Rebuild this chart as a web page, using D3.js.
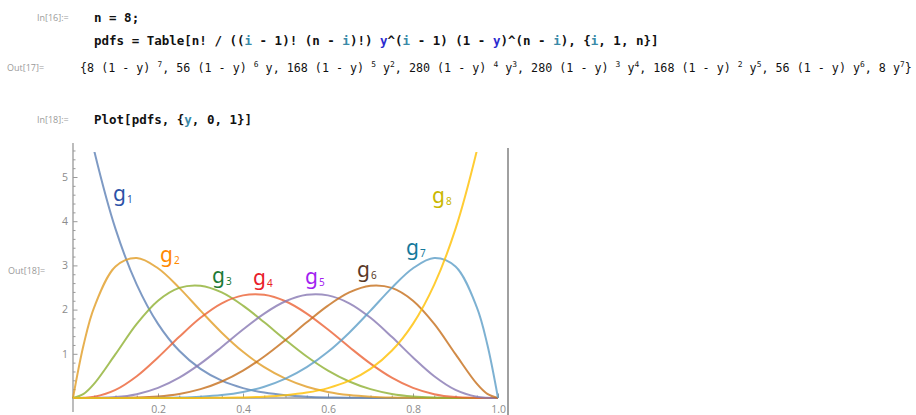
<!DOCTYPE html>
<html>
<head>
<meta charset="utf-8">
<script src="https://cdn.jsdelivr.net/npm/d3@7/dist/d3.min.js"></script>
<style>
  body{margin:0;background:#fff;}
  svg{display:block;}
  .cellLbl{font-family:"Open Sans","DejaVu Sans",sans-serif;font-size:9px;fill:#9a9a9a;}
  .code{font-family:"DejaVu Sans Mono",monospace;font-size:12.5px;font-weight:bold;fill:#111;}
  .out{font-family:"DejaVu Sans Mono",monospace;fill:#111;}
  .tick text{font-family:"Open Sans","DejaVu Sans",sans-serif;font-size:10.5px;fill:#8c8c8c;}
  .hand{font-family:"Noto Sans","DejaVu Sans",sans-serif;}
</style>
</head>
<body>
<svg id="nb" width="916" height="415"></svg>
<script>
// sample positions on y (the plot variable)
const ySamples = [0, 0.025, 0.05, 0.1, 0.15, 0.2, 0.25, 0.3, 0.35, 0.4, 0.45, 0.5,
  0.55, 0.6, 0.65, 0.7, 0.75, 0.8, 0.85, 0.9, 0.95, 0.975, 1];

// curve heights
const g1 = [8, 6.701, 5.587, 3.826, 2.565, 1.678, 1.068, 0.659, 0.392, 0.224, 0.122, 0.0625,
  0.030, 0.013, 0.005, 0.002, 0.0005, 0.0001, 0, 0, 0, 0, 0];
const g2 = [0, 1.203, 2.058, 2.976, 3.168, 2.936, 2.492, 1.976, 1.478, 1.045, 0.698, 0.438,
  0.256, 0.138, 0.067, 0.029, 0.010, 0.003, 0.0005, 0, 0, 0, 0];
const g3 = [0, 0.093, 0.325, 0.992, 1.677, 2.202, 2.492, 2.541, 2.388, 2.090, 1.712, 1.313,
  0.938, 0.619, 0.373, 0.200, 0.092, 0.034, 0.009, 0.001, 0, 0, 0];
const g4 = [0, 0.004, 0.029, 0.184, 0.493, 0.918, 1.384, 1.815, 2.143, 2.322, 2.335, 2.188,
  1.910, 1.548, 1.154, 0.778, 0.461, 0.229, 0.087, 0.020, 0.002, 0.0001, 0];
const g5 = [0, 0.0001, 0.002, 0.020, 0.087, 0.229, 0.461, 0.778, 1.154, 1.548, 1.910, 2.188,
  2.335, 2.322, 2.143, 1.815, 1.384, 0.918, 0.493, 0.184, 0.029, 0.004, 0];
const g6 = [0, 0, 0, 0.001, 0.009, 0.034, 0.092, 0.200, 0.373, 0.619, 0.938, 1.313,
  1.712, 2.090, 2.388, 2.541, 2.492, 2.202, 1.677, 0.992, 0.325, 0.093, 0];
const g7 = [0, 0, 0, 0, 0.0005, 0.003, 0.010, 0.029, 0.067, 0.138, 0.256, 0.438,
  0.698, 1.045, 1.478, 1.976, 2.492, 2.936, 3.168, 2.976, 2.058, 1.203, 0];
const g8 = [0, 0, 0, 0, 0, 0.0001, 0.0005, 0.002, 0.005, 0.013, 0.030, 0.0625,
  0.122, 0.224, 0.392, 0.659, 1.068, 1.678, 2.565, 3.826, 5.587, 6.701, 8];
const series = [g1, g2, g3, g4, g5, g6, g7, g8];

const xMajor = [0.2, 0.4, 0.6, 0.8, 1.0];
const xMinor = [0.05, 0.1, 0.15, 0.25, 0.3, 0.35, 0.45, 0.5, 0.55, 0.65, 0.7, 0.75, 0.85, 0.9, 0.95];
const yMajor = [1, 2, 3, 4, 5];
const yMinor = [0.2, 0.4, 0.6, 0.8, 1.2, 1.4, 1.6, 1.8, 2.2, 2.4, 2.6, 2.8, 3.2, 3.4, 3.6, 3.8,
  4.2, 4.4, 4.6, 4.8, 5.2, 5.4, 5.6];
const yClip = 5.566; // top of plot range

// output terms: coefficient, power of (1 - y), power of y
const outTerms = [[8,7,0],[56,6,1],[168,5,2],[280,4,3],[280,3,4],[168,2,5],[56,1,6],[8,0,7]];

// handwritten labels
const handLabels = ['1','2','3','4','5','6','7','8'];
const handColors = ['#2c52a8','#ff8a00','#1d7a36','#e8202a','#a21ff0','#5a3a28','#14799b','#c9b700'];
const handPos = [[113,201],[160,262],[212,283],[253,285],[305,284],[357,277],[406,255],[432,203]];

const lineColors = ['#5E81B5','#E19C24','#8FB032','#EB6235','#8778B3','#C56E1A','#5D9EC7','#FFBF00'];

const svg = d3.select('#nb');

// ---- notebook cells ----
const teal = '#3a8aa8', blue = '#2b2bd0';
function codeLine(x, y, parts){
  const t = svg.append('text').attr('class','code').attr('x',x).attr('y',y).attr('xml:space','preserve');
  parts.forEach(([s,c])=>t.append('tspan').attr('fill',c||'#111').text(s));
}
svg.append('text').attr('class','cellLbl').attr('x',37).attr('y',21).text('In[16]:=');
codeLine(94, 22, [['n = 8;']]);
codeLine(94, 45, [['pdfs = Table[n! / (('],['i',teal],[' - 1)! (n - '],['i',teal],[')!) '],['y',blue],
  ['^('],['i',teal],[' - 1) (1 - '],['y',blue],[')^(n - '],['i',teal],['), {'],['i',teal],[', 1, n}]']]);
svg.append('text').attr('class','cellLbl').attr('x',7).attr('y',71).text('Out[17]=');
svg.append('text').attr('class','cellLbl').attr('x',37).attr('y',123).text('In[18]:=');
codeLine(94, 124, [['Plot[pdfs, {'],['y',teal],[', 0, 1}]']]);
svg.append('text').attr('class','cellLbl').attr('x',8).attr('y',274).text('Out[18]=');

// output list: segments [text, isSuperscript, colour]
const segs = [['{',0]];
outTerms.forEach(([c,qp,yp],i)=>{
  segs.push([c + ' ',0]);
  if(qp>0){
    segs.push(['(',0,'#777'],['1 - y',0],[')',0,'#777']);
    if(qp>1) segs.push([' ',0],[String(qp),1]);
  }
  if(yp>0){
    segs.push([(qp>0?' ':'') + 'y',0]);
    if(yp>1) segs.push([String(yp),1]);
  }
  if(i<outTerms.length-1) segs.push([', ',0]);
});
segs.push(['}',0]);

function drawOut(fs){
  svg.selectAll('g.outLine').remove();
  const g = svg.append('g').attr('class','outLine');
  let cx = 80;
  segs.forEach(([s,sup,col])=>{
    const t = g.append('text').attr('class','out').attr('xml:space','preserve')
      .attr('x',cx).attr('y',sup ? 72 - fs*0.42 : 72)
      .attr('font-size',sup ? fs*0.68 : fs)
      .attr('fill',col||'#111').text(s);
    cx += t.node().getComputedTextLength();
  });
  return cx - 80;
}
const w0 = drawOut(13);
drawOut(13 * 832 / w0);

// ---- plot ----
const x = d3.scaleLinear().domain([0,1]).range([73,498]);
const y = d3.scaleLinear().domain([0,5]).range([398,177]);

svg.append('defs').append('clipPath').attr('id','pclip')
  .append('rect').attr('x',x(0)-2).attr('y',y(yClip))
  .attr('width',x(1)-x(0)+4).attr('height',y(0)-y(yClip)+3);

const plot = svg.append('g');

// axes
const axX = plot.append('g').attr('transform',`translate(0,${y(0)})`)
  .call(d3.axisBottom(x).tickValues(xMajor).tickFormat(d3.format('.1f')).tickSize(-4.5).tickPadding(11));
const axXm = plot.append('g').attr('transform',`translate(0,${y(0)})`)
  .call(d3.axisBottom(x).tickValues(xMinor).tickFormat('').tickSize(-2.5));
const axY = plot.append('g').attr('transform',`translate(${x(0)},0)`)
  .call(d3.axisLeft(y).tickValues(yMajor).tickFormat(d3.format('d')).tickSize(-4.5).tickPadding(5));
const axYm = plot.append('g').attr('transform',`translate(${x(0)},0)`)
  .call(d3.axisLeft(y).tickValues(yMinor).tickFormat('').tickSize(-2.5));
[axX,axXm,axY,axYm].forEach(a=>{
  a.select('.domain').remove();
  a.selectAll('.tick line').attr('stroke','#999').attr('stroke-width',1);
});
axX.selectAll('.tick text').attr('dy','0.4em');
plot.append('line').attr('x1',x(0)-1).attr('x2',x(1)).attr('y1',y(0)).attr('y2',y(0))
  .attr('stroke','#999').attr('stroke-width',1.3);
plot.append('line').attr('x1',x(0)).attr('x2',x(0)).attr('y1',143).attr('y2',412)
  .attr('stroke','#999').attr('stroke-width',1.3);

// curves
const line = d3.line()
  .x((d,i)=>x(ySamples[i]))
  .y(d=>y(d))
  .curve(d3.curveCatmullRom.alpha(0.5));
plot.append('g').attr('clip-path','url(#pclip)')
  .selectAll('path').data(series).join('path')
  .attr('d',line)
  .attr('fill','none')
  .attr('stroke',(d,i)=>lineColors[i])
  .attr('stroke-opacity',0.8)
  .attr('stroke-width',2);

// cell bracket line
svg.append('line').attr('x1',508).attr('x2',508).attr('y1',148).attr('y2',415)
  .attr('stroke','#a0a0a0').attr('stroke-width',2);

// handwritten labels
handLabels.forEach((s,i)=>{
  const t = svg.append('text').attr('class','hand')
    .attr('x',handPos[i][0]).attr('y',handPos[i][1])
    .attr('fill',handColors[i]).attr('font-size',21);
  t.append('tspan').text('g');
  t.append('tspan').attr('font-size',10).attr('dx',1).attr('dy',2).text(s);
});
</script>
</body>
</html>
